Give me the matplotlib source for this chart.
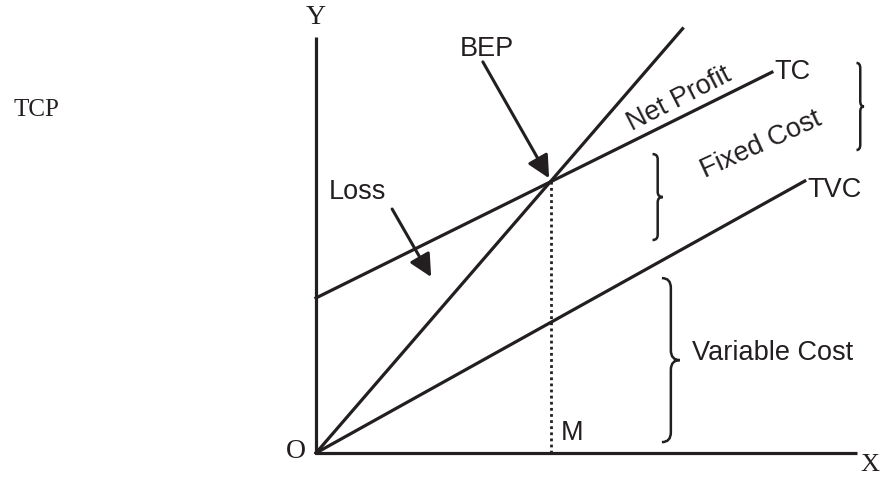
import numpy as np
import matplotlib.pyplot as plt
from matplotlib.path import Path
from matplotlib.patches import PathPatch

# DATOS (cantidad, importe)
tr_q = [0, 78]          # ingreso total, pasa por el origen
tr_v = [0, 156]
tc_q = [0, 97]          # costo total = costo fijo + variable
tc_v = [57, 140]
tvc_q = [0, 104]        # costo variable total
tvc_v = [0, 100]
bep_q = 50              # punto de equilibrio M
bep_v = 100
x_axis_end = 115
y_axis_end = 153

ink = '#231f20'

# escala: 4.7 px por unidad de cantidad, 2.72 px por unidad de importe
fig = plt.figure(figsize=(8.81, 4.78), dpi=100)
ax = fig.add_axes([0, 0, 1, 1])
ax.set_xlim(-316 / 4.7, (881 - 316) / 4.7)
ax.set_ylim(-(478 - 453) / 2.72, 453 / 2.72)
ax.axis('off')

lw = 2.3
ax.plot([0, 0], [0, y_axis_end], color=ink, lw=lw, solid_capstyle='butt')
ax.plot([0, x_axis_end], [0, 0], color=ink, lw=lw, solid_capstyle='butt')
ax.plot(tr_q, tr_v, color=ink, lw=lw)
ax.plot(tc_q, tc_v, color=ink, lw=lw)
ax.plot(tvc_q, tvc_v, color=ink, lw=lw)
ax.plot([bep_q, bep_q], [0, bep_v], color=ink, lw=2.0, linestyle=(0, (1, 1.2)))


def llave(x0, x1, top, bot):
    # llave "}" con la punta hacia la derecha
    xs = x0 + (x1 - x0) * 0.5
    m = (top + bot) / 2
    r = abs(top - bot) * 0.06
    s = 1 if top > bot else -1
    verts = [(x0, top), (xs, top), (xs, top - s * r),
             (xs, m + s * r),
             (xs, m), (x1, m),
             (xs, m), (xs, m - s * r),
             (xs, bot + s * r),
             (xs, bot), (x0, bot)]
    codes = [Path.MOVETO, Path.CURVE3, Path.CURVE3,
             Path.LINETO,
             Path.CURVE3, Path.CURVE3,
             Path.CURVE3, Path.CURVE3,
             Path.LINETO,
             Path.CURVE3, Path.CURVE3]
    ax.add_patch(PathPatch(Path(verts, codes), fill=False, color=ink, lw=1.8))


llave(73.6, 77.4, 64.3, 4.0)
llave(71.6, 73.8, 109.9, 78.3)
llave(115.0, 116.6, 143.4, 111.4)

sans = dict(family='Liberation Sans', fontsize=19.5, color=ink)
serif = dict(family='Liberation Serif', fontsize=20, color=ink)

ax.text(0, 160, 'Y', ha='center', va='center', **serif)
ax.text(-4.3, 0.4, 'O', ha='center', va='center', **serif)
ax.text(117.8, -4.4, 'X', ha='center', va='center', family='Liberation Serif', fontsize=19, color=ink)
ax.text(-59.4, 126, 'TCP', ha='center', va='center', family='Liberation Serif', fontsize=18, color=ink)

ax.text(36.4, 148.5, 'BEP', ha='center', va='center', **sans)
ax.annotate('', xy=(49.6, 101), xytext=(35.5, 143.8),
            arrowprops=dict(arrowstyle='-|>', color=ink, lw=2.2, mutation_scale=34, shrinkA=0, shrinkB=0))
ax.text(8.9, 96, 'Loss', ha='center', va='center', **sans)
ax.annotate('', xy=(24.5, 64.7), xytext=(16.2, 89.7),
            arrowprops=dict(arrowstyle='-|>', color=ink, lw=2.2, mutation_scale=34, shrinkA=0, shrinkB=0))

ax.text(77.2, 130.1, 'Net Profit', ha='center', va='center', rotation=27, rotation_mode='anchor', **sans)
ax.text(94.7, 113.2, 'Fixed Cost', ha='center', va='center', rotation=24.5, rotation_mode='anchor', **sans)
ax.text(97.6, 140, 'TC', ha='left', va='center', **sans)
ax.text(104.6, 96.7, 'TVC', ha='left', va='center', **sans)
ax.text(80, 36.8, 'Variable Cost', ha='left', va='center', **sans)
ax.text(54.5, 7.3, 'M', ha='center', va='center', **sans)

fig.savefig('out.png', dpi=100)
